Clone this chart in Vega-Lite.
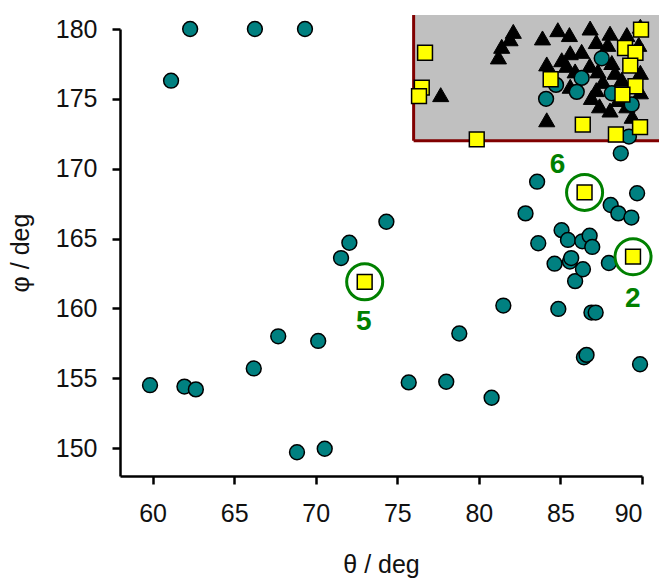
{
  "$schema": "https://vega.github.io/schema/vega-lite/v6.json",
  "width": 522,
  "height": 447,
  "autosize": "none",
  "padding": {"left": 120, "top": 29, "right": 17, "bottom": 102},
  "background": "white",
  "config": {
    "view": {"stroke": null},
    "font": "Liberation Sans",
    "axis": {
      "grid": false,
      "domainColor": "black",
      "domainWidth": 2.5,
      "tickColor": "black",
      "tickWidth": 2.5,
      "tickSize": 8,
      "labelFontSize": 25,
      "labelColor": "#111",
      "labelFont": "Liberation Sans",
      "titleFont": "Liberation Sans",
      "titleFontSize": 25,
      "titleFontWeight": "normal",
      "titleColor": "#111"
    }
  },
  "datasets": {
    "box": [{"x1": 76, "x2": 91.2, "y1": 172, "y2": 181}],
    "circles": [
      {"theta": 59.84, "phi": 154.5}, {"theta": 61.13, "phi": 176.3}, {"theta": 62.3, "phi": 180},
      {"theta": 61.95, "phi": 154.4}, {"theta": 62.65, "phi": 154.2}, {"theta": 66.27, "phi": 180},
      {"theta": 69.34, "phi": 180}, {"theta": 66.2, "phi": 155.7}, {"theta": 67.7, "phi": 158.0},
      {"theta": 68.85, "phi": 149.7}, {"theta": 70.15, "phi": 157.67}, {"theta": 70.55, "phi": 149.95},
      {"theta": 71.55, "phi": 163.6}, {"theta": 72.06, "phi": 164.7}, {"theta": 74.33, "phi": 166.2},
      {"theta": 75.7, "phi": 154.7}, {"theta": 78.0, "phi": 154.75}, {"theta": 78.8, "phi": 158.2},
      {"theta": 81.5, "phi": 160.2}, {"theta": 80.78, "phi": 153.6}, {"theta": 84.87, "phi": 159.96},
      {"theta": 86.9, "phi": 159.7}, {"theta": 87.16, "phi": 159.7}, {"theta": 86.44, "phi": 156.5},
      {"theta": 86.6, "phi": 156.67}, {"theta": 89.88, "phi": 156.0}, {"theta": 85.9, "phi": 161.95},
      {"theta": 88.7, "phi": 171.1}, {"theta": 89.2, "phi": 172.3}, {"theta": 83.57, "phi": 169.07},
      {"theta": 89.7, "phi": 168.24}, {"theta": 88.08, "phi": 167.4}, {"theta": 88.55, "phi": 166.8},
      {"theta": 89.35, "phi": 166.5}, {"theta": 82.86, "phi": 166.8}, {"theta": 85.07, "phi": 165.6},
      {"theta": 85.46, "phi": 164.9}, {"theta": 86.34, "phi": 164.8}, {"theta": 86.79, "phi": 165.2},
      {"theta": 86.95, "phi": 164.4}, {"theta": 83.64, "phi": 164.66}, {"theta": 84.64, "phi": 163.2},
      {"theta": 85.58, "phi": 163.35}, {"theta": 85.66, "phi": 163.6}, {"theta": 86.38, "phi": 162.8},
      {"theta": 87.97, "phi": 163.25},
      {"theta": 87.53, "phi": 177.9}, {"theta": 86.3, "phi": 176.5}, {"theta": 86.0, "phi": 175.5},
      {"theta": 88.15, "phi": 175.4}, {"theta": 89.37, "phi": 174.6}, {"theta": 84.73, "phi": 176.0},
      {"theta": 84.12, "phi": 175.0}
    ],
    "triangles": [
      {"theta": 82.11, "phi": 179.83}, {"theta": 81.91, "phi": 179.3}, {"theta": 81.4, "phi": 178.76},
      {"theta": 81.2, "phi": 178.0}, {"theta": 83.9, "phi": 179.36}, {"theta": 84.84, "phi": 179.95},
      {"theta": 85.55, "phi": 179.6}, {"theta": 84.16, "phi": 177.5}, {"theta": 85.08, "phi": 177.8},
      {"theta": 84.16, "phi": 173.5}, {"theta": 86.82, "phi": 180.07}, {"theta": 88.04, "phi": 179.7},
      {"theta": 89.07, "phi": 179.6}, {"theta": 89.9, "phi": 180.2}, {"theta": 85.6, "phi": 178.3},
      {"theta": 86.3, "phi": 178.4}, {"theta": 87.2, "phi": 179.1}, {"theta": 87.9, "phi": 178.9},
      {"theta": 86.8, "phi": 177.4}, {"theta": 88.15, "phi": 177.6}, {"theta": 85.38, "phi": 177.4},
      {"theta": 85.9, "phi": 177.0}, {"theta": 87.3, "phi": 177.0}, {"theta": 88.35, "phi": 176.9},
      {"theta": 88.76, "phi": 176.4}, {"theta": 85.6, "phi": 175.9}, {"theta": 87.2, "phi": 175.66},
      {"theta": 86.9, "phi": 175.1}, {"theta": 87.4, "phi": 174.5}, {"theta": 88.04, "phi": 174.2},
      {"theta": 89.07, "phi": 174.5}, {"theta": 89.4, "phi": 173.75}, {"theta": 88.55, "phi": 174.95},
      {"theta": 87.6, "phi": 176.25}, {"theta": 89.8, "phi": 178.9}, {"theta": 89.9, "phi": 176.9},
      {"theta": 89.9, "phi": 175.5}, {"theta": 77.66, "phi": 175.3}
    ],
    "squares": [
      {"theta": 76.7, "phi": 178.3}, {"theta": 76.5, "phi": 175.8}, {"theta": 76.33, "phi": 175.2},
      {"theta": 79.87, "phi": 172.1}, {"theta": 84.4, "phi": 176.4}, {"theta": 86.37, "phi": 173.16},
      {"theta": 88.4, "phi": 172.45}, {"theta": 89.88, "phi": 172.97}, {"theta": 89.94, "phi": 179.95},
      {"theta": 88.96, "phi": 178.64}, {"theta": 89.6, "phi": 178.3}, {"theta": 89.28, "phi": 177.38},
      {"theta": 89.6, "phi": 175.9}, {"theta": 88.8, "phi": 175.3},
      {"theta": 73.0, "phi": 161.9}, {"theta": 86.48, "phi": 168.3}, {"theta": 89.45, "phi": 163.7}
    ],
    "highlights": [
      {"theta": 73.0, "phi": 161.9, "label": "5", "lx": 72.94, "ly": 159.0},
      {"theta": 86.48, "phi": 168.3, "label": "6", "lx": 84.82, "ly": 170.25},
      {"theta": 89.45, "phi": 163.7, "label": "2", "lx": 89.43, "ly": 160.65}
    ]
  },
  "layer": [
    {
      "data": {"name": "box"},
      "mark": {"type": "rect", "fill": "#C0C0C0", "clip": false},
      "encoding": {
        "x": {"field": "x1", "type": "quantitative", "scale": {"domain": [58, 90], "nice": false, "zero": false},
              "axis": {"title": "θ / deg", "values": [60, 65, 70, 75, 80, 85, 90], "labelPadding": 17, "titlePadding": 26}},
        "x2": {"field": "x2"},
        "y": {"field": "y1", "type": "quantitative", "scale": {"domain": [148, 180], "nice": false, "zero": false},
              "axis": {"title": "φ / deg", "values": [150, 155, 160, 165, 170, 175, 180], "labelPadding": 15, "titlePadding": 22}},
        "y2": {"field": "y2"}
      }
    },
    {
      "data": {"name": "box"},
      "mark": {"type": "rule", "color": "#800000", "strokeWidth": 3, "clip": false},
      "encoding": {
        "x": {"field": "x1", "type": "quantitative"},
        "y": {"field": "y1", "type": "quantitative"},
        "y2": {"field": "y2"}
      }
    },
    {
      "data": {"name": "box"},
      "mark": {"type": "rule", "color": "#800000", "strokeWidth": 3, "clip": false},
      "encoding": {
        "x": {"field": "x1", "type": "quantitative"},
        "x2": {"field": "x2"},
        "y": {"field": "y1", "type": "quantitative"}
      }
    },
    {
      "data": {"name": "triangles"},
      "mark": {"type": "point", "shape": "triangle-up", "filled": true, "fill": "black", "stroke": "black", "strokeWidth": 1, "size": 260, "opacity": 1},
      "encoding": {
        "x": {"field": "theta", "type": "quantitative"},
        "y": {"field": "phi", "type": "quantitative"}
      }
    },
    {
      "data": {"name": "circles"},
      "mark": {"type": "point", "shape": "circle", "filled": true, "fill": "#008080", "stroke": "black", "strokeWidth": 1.5, "size": 220, "opacity": 1},
      "encoding": {
        "x": {"field": "theta", "type": "quantitative"},
        "y": {"field": "phi", "type": "quantitative"}
      }
    },
    {
      "data": {"name": "squares"},
      "mark": {"type": "point", "shape": "square", "filled": true, "fill": "#FFFF00", "stroke": "black", "strokeWidth": 1.5, "size": 220, "opacity": 1},
      "encoding": {
        "x": {"field": "theta", "type": "quantitative"},
        "y": {"field": "phi", "type": "quantitative"}
      }
    },
    {
      "data": {"name": "highlights"},
      "mark": {"type": "point", "shape": "circle", "filled": false, "stroke": "#008000", "strokeWidth": 3, "size": 1300, "opacity": 1},
      "encoding": {
        "x": {"field": "theta", "type": "quantitative"},
        "y": {"field": "phi", "type": "quantitative"}
      }
    },
    {
      "data": {"name": "highlights"},
      "mark": {"type": "text", "color": "#008000", "fontSize": 28, "fontWeight": "bold", "font": "Liberation Sans", "baseline": "middle", "align": "center"},
      "encoding": {
        "x": {"field": "lx", "type": "quantitative"},
        "y": {"field": "ly", "type": "quantitative"},
        "text": {"field": "label"}
      }
    }
  ]
}
